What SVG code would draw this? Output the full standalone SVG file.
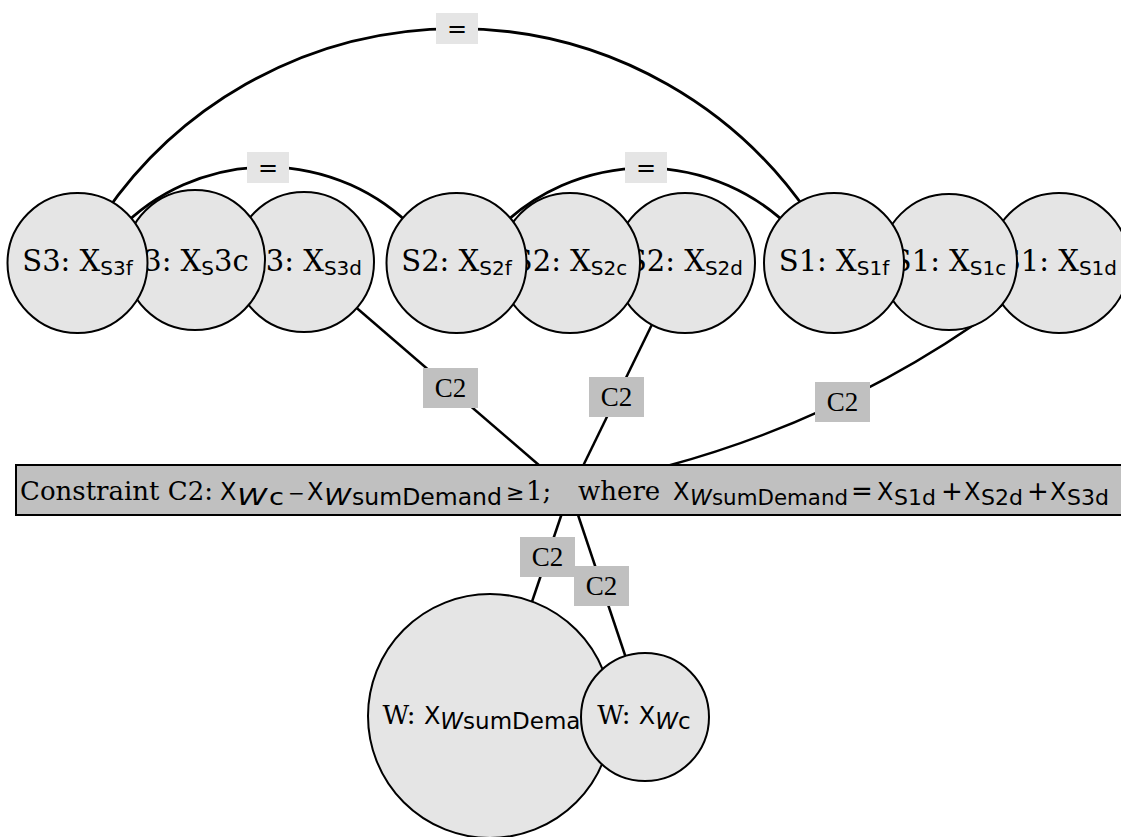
<svg xmlns="http://www.w3.org/2000/svg" width="1121" height="837" viewBox="0 0 1121 837">
<style>
.edge{fill:none;stroke:#000;stroke-width:2.5}
.arc{stroke-width:2.8}
.node circle{fill:#e5e5e5;stroke:#000;stroke-width:2}
.box{fill:#c0c0c0;stroke:#000;stroke-width:2}
.eq{fill:#e5e5e5}
.tag{fill:#c0c0c0}
text{fill:#000}
.serif{font-family:"DejaVu Serif","Liberation Serif",serif}
.sans{font-family:"DejaVu Sans","Liberation Sans",sans-serif}
.top{font-size:29px;text-anchor:middle}
.bot{font-size:26px;text-anchor:middle}
.ct{font-size:26px}
.s20{font-size:20px}
.s22{font-size:22px}
.s23{font-size:23px}
.s24{font-size:24px}
.it{font-style:italic}
.elbl{font-family:"Liberation Serif","Times New Roman",serif;font-size:27px;text-anchor:middle}
.eqs{font-family:"DejaVu Sans","Liberation Sans",sans-serif;font-size:24px;text-anchor:middle}
</style>

<!-- connectors: equality arcs and C2 links, drawn beneath the nodes -->
<g id="connectors">
  <path class="edge arc" d="M103.8 215 A426.8 426.8 0 0 1 809.2 215"/>
  <path class="edge arc" d="M119 230 A205.5 205.5 0 0 1 415 230"/>
  <path class="edge arc" d="M497.3 230 A207 207 0 0 1 792.7 230"/>
  <path class="edge" d="M308 266 L540 466"/>
  <path class="edge" d="M680 267 L583 466"/>
  <path class="edge" d="M667 466 Q849.5 416.5 1002 305 L1012 298"/>
  <path class="edge" d="M561.7 514 L528.5 612"/>
  <path class="edge" d="M577.7 514 L629 667"/>

  <g id="lbl-eq-s3-s1"><rect class="eq" x="436" y="13" width="42" height="31"/><text class="eqs" x="457" y="37">=</text></g>
  <g id="lbl-eq-s3-s2"><rect class="eq" x="247" y="152" width="42" height="31"/><text class="eqs" x="268" y="176">=</text></g>
  <g id="lbl-eq-s2-s1"><rect class="eq" x="625" y="152" width="42" height="31"/><text class="eqs" x="646" y="176">=</text></g>

  <g id="lbl-c2-s3"><rect class="tag" x="423" y="368" width="55" height="40"/><text class="elbl" x="450.5" y="397">C2</text></g>
  <g id="lbl-c2-s2"><rect class="tag" x="589" y="377" width="55" height="40"/><text class="elbl" x="616.5" y="406">C2</text></g>
  <g id="lbl-c2-s1"><rect class="tag" x="815" y="382" width="55" height="40"/><text class="elbl" x="842.5" y="411">C2</text></g>
  <g id="lbl-c2-wsum"><rect class="tag" x="520" y="537" width="55" height="40"/><text class="elbl" x="547.5" y="566">C2</text></g>
  <g id="lbl-c2-wc"><rect class="tag" x="574" y="566" width="55" height="40"/><text class="elbl" x="601.5" y="595">C2</text></g>
</g>

<!-- supplier S3 -->
<g id="S3d" class="node"><circle cx="304" cy="262" r="70"/><text class="serif top" x="304" y="271">S3: X<tspan class="sans s20" dy="4">S3d</tspan></text></g>
<g id="S3c" class="node"><circle cx="195" cy="260" r="70"/><text class="serif top" x="186" y="271">S3: X<tspan class="sans s20" dy="4">S</tspan><tspan dy="-4">3c</tspan></text></g>
<g id="S3f" class="node"><circle cx="77.5" cy="263" r="70"/><text class="serif top" x="77.5" y="271">S3: X<tspan class="sans s20" dy="4">S3f</tspan></text></g>

<!-- supplier S2 -->
<g id="S2d" class="node"><circle cx="685" cy="263" r="70"/><text class="serif top" x="685" y="271">S2: X<tspan class="sans s20" dy="4">S2d</tspan></text></g>
<g id="S2c" class="node"><circle cx="570" cy="263" r="70"/><text class="serif top" x="570" y="271">S2: X<tspan class="sans s20" dy="4">S2c</tspan></text></g>
<g id="S2f" class="node"><circle cx="456.5" cy="263" r="70"/><text class="serif top" x="456.5" y="271">S2: X<tspan class="sans s20" dy="4">S2f</tspan></text></g>

<!-- supplier S1 -->
<g id="S1d" class="node"><circle cx="1059" cy="263" r="70"/><text class="serif top" x="1059" y="271">S1: X<tspan class="sans s20" dy="4">S1d</tspan></text></g>
<g id="S1c" class="node"><circle cx="949" cy="262" r="68"/><text class="serif top" x="949" y="271">S1: X<tspan class="sans s20" dy="4">S1c</tspan></text></g>
<g id="S1f" class="node"><circle cx="834" cy="263" r="70"/><text class="serif top" x="834" y="271">S1: X<tspan class="sans s20" dy="4">S1f</tspan></text></g>

<!-- warehouse W -->
<g id="WsumDemand" class="node"><circle cx="490" cy="716" r="122"/><text class="serif bot" x="496" y="724">W: <tspan class="sans s24">X</tspan><tspan class="sans s23 it" dy="5">W</tspan><tspan class="sans s23">sumDemand</tspan></text></g>
<g id="Wc" class="node"><circle cx="645" cy="717" r="64"/><text class="serif bot" x="644" y="724">W: <tspan class="sans s24">X</tspan><tspan class="sans s23 it" dy="5">W</tspan><tspan class="sans s23">c</tspan></text></g>

<!-- constraint C2 -->
<g id="C2">
  <rect class="box" x="16" y="465" width="1108" height="50"/>
  <text class="serif ct" y="500"><tspan x="20">Constraint C2:</tspan><tspan x="220" class="sans s24">X</tspan><tspan x="237" class="sans s23 it" dy="5" textLength="30" lengthAdjust="spacingAndGlyphs">W</tspan><tspan x="269" class="sans s23" textLength="15" lengthAdjust="spacingAndGlyphs">c</tspan><tspan x="288" class="sans" font-size="20" dy="-5">−</tspan><tspan x="307" class="sans s24">X</tspan><tspan x="324" class="sans s23 it" dy="5" textLength="27" lengthAdjust="spacingAndGlyphs">W</tspan><tspan x="352" class="sans s23" textLength="150" lengthAdjust="spacingAndGlyphs">sumDemand</tspan><tspan x="506" class="sans" font-size="22" dy="-5">≥</tspan><tspan x="526">1;</tspan><tspan x="578">where</tspan><tspan x="673" class="sans s24">X</tspan><tspan x="690" class="sans s22 it" dy="5">W</tspan><tspan x="712" class="sans s22" textLength="136" lengthAdjust="spacingAndGlyphs">sumDemand</tspan><tspan x="851" class="sans" dy="-5">=</tspan><tspan x="877" class="sans s24">X</tspan><tspan x="894" class="sans s22" dy="5">S1d</tspan><tspan x="941" class="sans" dy="-5">+</tspan><tspan x="964" class="sans s24">X</tspan><tspan x="981" class="sans s22" dy="5">S2d</tspan><tspan x="1027" class="sans" dy="-5">+</tspan><tspan x="1050" class="sans s24">X</tspan><tspan x="1067" class="sans s22" dy="5">S3d</tspan></text>
</g>
</svg>
